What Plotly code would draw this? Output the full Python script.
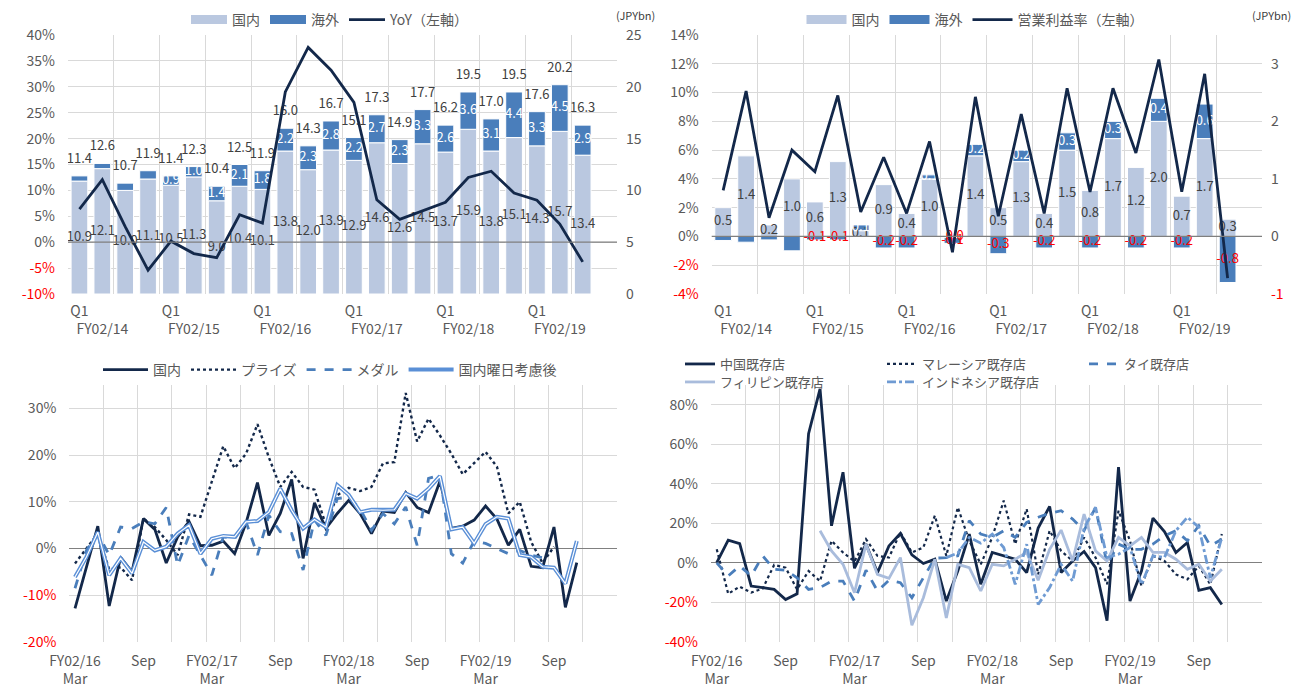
import plotly.graph_objects as go

# ---------------- data ----------------
fy_labels = ["FY02/14", "FY02/15", "FY02/16", "FY02/17", "FY02/18", "FY02/19"]

# Top-left: sales (JPYbn) and YoY (%)
sales_domestic = [10.9, 12.1, 10.0, 11.1, 10.5, 11.3, 9.0, 10.4, 10.1, 13.8, 12.0, 13.9,
                  12.9, 14.6, 12.6, 14.5, 13.7, 15.9, 13.8, 15.1, 14.3, 15.7, 13.4]
sales_overseas = [0.5, 0.5, 0.7, 0.8, 0.9, 1.0, 1.4, 2.1, 1.8, 2.2, 2.3, 2.8,
                  2.2, 2.7, 2.3, 3.3, 2.6, 3.6, 3.1, 4.4, 3.3, 4.5, 2.9]
sales_total = [11.4, 12.6, 10.7, 11.9, 11.4, 12.3, 10.4, 12.5, 11.9, 16.0, 14.3, 16.7,
               15.1, 17.3, 14.9, 17.7, 16.2, 19.5, 17.0, 19.5, 17.6, 20.2, 16.3]
sales_yoy = [6.4, 12.1, 3.0, -5.4, 0.2, -2.2, -3.0, 5.3, 3.7, 29.0, 37.6, 33.2,
             27.0, 8.2, 4.4, 6.0, 7.7, 12.5, 13.7, 9.5, 8.1, 3.5, -3.8]

# Top-right: operating profit (JPYbn) and margin (%)
op_domestic = [0.5, 1.4, 0.2, 1.0, 0.6, 1.3, 0.1, 0.9, 0.4, 1.0, -0.02, 1.4,
               0.5, 1.3, 0.4, 1.5, 0.8, 1.7, 1.2, 2.0, 0.7, 1.7, 0.3]
op_overseas = [-0.07, -0.1, -0.06, -0.25, -0.06, -0.06, 0.1, -0.2, -0.2, 0.07, -0.1, 0.2,
               -0.3, 0.2, -0.2, 0.3, -0.2, 0.3, -0.2, 0.4, -0.2, 0.6, -0.8]
op_margin = [3.2, 10.1, 1.3, 6.0, 4.5, 9.8, 1.7, 5.5, 1.6, 6.6, -1.1, 9.7,
             1.4, 8.5, 1.6, 10.3, 3.1, 10.3, 5.8, 12.3, 3.1, 11.3, -2.9]

# Bottom: monthly, Mar FY02/16 onwards
month_tick_labels = ["FY02/16<br>Mar", "Sep", "FY02/17<br>Mar", "Sep",
                     "FY02/18<br>Mar", "Sep", "FY02/19<br>Mar", "Sep"]
jp_domestic = [-12.8, -4.0, 4.8, -12.3, -1.9, -5.0, 6.4, 4.1, -3.1, 2.5, 5.8, 0.6, 0.7, 1.6,
               -1.1, 5.5, 14.1, 2.8, 7.5, 14.8, -2.1, 9.8, 4.3, 7.5, 10.3, 7.5, 3.2, 8.0,
               7.7, 12.0, 8.8, 7.7, 14.4, 4.3, 4.8, 6.1, 9.1, 6.3, 0.7, 4.1, -3.8, -4.1,
               4.6, -12.6, -3.0]
jp_prize = [-3.2, 0.0, 3.2, -4.5, -4.0, -6.8, 6.4, 4.6, 1.8, -1.4, 7.3, 6.8, 14.2, 21.9,
            17.2, 20.3, 26.6, 19.5, 13.2, 16.4, 13.2, 12.6, 5.0, 11.4, 13.0, 12.3, 13.2,
            18.2, 18.5, 33.3, 22.9, 27.8, 24.2, 20.3, 15.9, 18.2, 20.7, 17.5, 7.5, 10.0,
            1.4, -3.1, 0.4]
jp_medal = [-8.5, -0.4, 3.2, -1.4, 4.6, 4.3, 5.7, 5.3, 8.8, -3.6, 2.8, -1.4, -5.7, 2.5,
            2.1, 5.7, -1.4, 7.1, 3.6, 3.2, -4.6, 6.1, 2.8, 10.7, 11.0, 8.5, 3.9, 7.5, 5.3,
            8.9, 0.7, 15.0, 15.7, -1.1, -3.1, 1.6, 1.1, 0.0, -1.1, -0.4, -1.4, -2.0]
jp_adjusted = [-6.1, -1.8, 3.5, -5.7, -2.1, -5.3, 1.4, -0.4, 0.4, 3.2, 5.0, -1.1, 2.1, 2.7,
               2.5, 5.7, 5.9, 7.8, 12.8, 8.2, 4.3, 6.2, 4.6, 13.6, 11.5, 7.8, 8.3, 8.2,
               8.3, 11.8, 10.7, 12.8, 15.5, 4.1, 4.6, 1.1, 5.2, 6.8, 6.4, -1.4, -1.8, -3.9,
               -4.1, -7.5, 1.6]

ov_china = [0.2, 11.5, 9.8, -11.7, -12.5, -13.4, -18.5, -15.6, 65.4, 88.0, 18.8, 45.9, -2.7,
            9.5, -4.9, 8.6, 14.9, 4.1, -0.3, 1.9, -19.3, -4.1, 14.6, -10.8, 5.3, 3.6, 1.9,
            -4.9, 17.6, 28.6, -4.9, 1.0, 5.8, -2.4, -29.2, 48.5, -19.3, -4.1, 22.7, 15.9,
            5.3, 10.3, -13.9, -12.5, -21.0]
ov_malaysia = [6.9, -15.6, -12.0, -15.0, -13.0, -1.0, -2.4, -13.4, -4.1, -9.2, 11.2, 5.3,
               0.7, 12.0, 3.6, 2.7, 15.4, 5.3, 7.8, 23.9, 3.6, 28.1, 11.2, -0.7, 12.9, 31.5,
               9.5, 27.3, -5.8, 16.3, 6.1, 1.0, 12.9, 2.7, -10.8, 26.4, 11.2, -11.7, 3.6,
               1.0, -5.8, -8.3, -1.5, -10.8, 14.6]
ov_thai = [0.0, -6.6, -1.5, -6.6, 3.6, -3.2, -3.7, -7.5, -13.4, -12.5, -9.2, -9.2, -19.3,
           -3.7, -14.2, -8.8, -10.0, -17.6, -7.5, 2.4, 2.7, 3.6, 21.4, 14.6, 12.9, 16.3,
           12.9, 20.5, 23.1, 25.1, 26.4, 22.2, 16.3, 28.1, -0.7, 9.5, 6.9, 6.9, 9.5, 13.7,
           16.3, 11.2, 18.8, 8.6, 12.0]
ov_philippines = [None] * 9 + [16.3, 6.1, -0.7, -15.1, 9.5, -5.8, -7.8, 2.7, -31.5, -17.6,
                               1.9, -27.8, -0.7, -2.4, -14.2, -0.7, -1.5, 1.9, 5.3, -8.8,
                               6.9, 16.6, 1.0, 24.7, 6.1, 1.0, 12.9, 8.6, 12.9, 5.3, 5.3,
                               1.9, -3.2, -0.7, -9.2, -3.2]
ov_indonesia = [None] * 20 + [2.7, 5.0, 12.9, 10.0, 14.6, 7.8, -10.8, 9.5, -21.0, -12.5,
                              -0.7, -9.2, 17.6, 28.1, 2.7, 4.4, 7.8, -11.0, 3.6, 2.7, 16.3,
                              23.1, 18.0, -7.5, 12.9]

# ---------------- styles ----------------
LIGHT = "#BAC8E0"
BLUE = "#4A7EBB"
NAVY = "#13284A"
ADJ = "#5A8FD6"
PHIL = "#A9BCDC"
INDO = "#6F9BD3"
GRID = "#D9D9D9"
TXT = "#595959"
LBL = "#404040"
RED = "#FF0000"
FONT = "Noto Sans CJK JP"

W = 1300.0
H = 687.0
OFF = 8.0  # page body margin offset of the rendered figure


def px(x):
    return (x - OFF) / W


def py(y):
    return 1 - (y - OFF) / H


def red_neg(vals, fmt):
    out = []
    for v in vals:
        s = fmt(v)
        out.append(f'<span style="color:{RED}">{s}</span>' if v < 0 else s)
    return out


def swatch(name, color, xaxis, yaxis, legend):
    # legend-only entry drawn as a wide colour block (like the original's legend keys)
    return go.Scatter(x=[None], y=[None], mode="lines", name=name, line=dict(color=color, width=9),
                      xaxis=xaxis, yaxis=yaxis, legend=legend, hoverinfo="skip")


fig = go.Figure()

# ---------- top-left ----------
xq = list(range(len(sales_domestic)))
fig.add_trace(go.Bar(x=xq, y=sales_domestic, name="国内", marker=dict(color=LIGHT, line=dict(color="white", width=1)),
                     xaxis="x", yaxis="y", showlegend=False))
fig.add_trace(go.Bar(x=xq, y=sales_overseas, name="海外", marker=dict(color=BLUE, line=dict(color="white", width=1)),
                     xaxis="x", yaxis="y", showlegend=False))
fig.add_trace(go.Scatter(x=xq, y=[d / 2 for d in sales_domestic], mode="text",
                         text=[f"{d:.1f}" for d in sales_domestic], textfont=dict(color=LBL, size=13, family=FONT),
                         showlegend=False, xaxis="x", yaxis="y", hoverinfo="skip"))
fig.add_trace(go.Scatter(x=xq[4:], y=[d + o / 2 for d, o in zip(sales_domestic[4:], sales_overseas[4:])], mode="text",
                         text=[f"{o:.1f}" for o in sales_overseas[4:]], textfont=dict(color="white", size=13, family=FONT),
                         showlegend=False, xaxis="x", yaxis="y", hoverinfo="skip"))
fig.add_trace(go.Scatter(x=xq, y=[d + o for d, o in zip(sales_domestic, sales_overseas)], mode="markers+text",
                         marker=dict(size=14, color="rgba(0,0,0,0)"),
                         text=[f"{t:.1f}" for t in sales_total], textposition="top center",
                         textfont=dict(color=LBL, size=13, family=FONT),
                         showlegend=False, xaxis="x", yaxis="y", hoverinfo="skip"))
fig.add_trace(swatch("国内", LIGHT, "x", "y", "legend"))
fig.add_trace(swatch("海外", BLUE, "x", "y", "legend"))
fig.add_trace(go.Scatter(x=xq, y=sales_yoy, mode="lines", name="YoY（左軸）", line=dict(color=NAVY, width=2.8),
                         xaxis="x", yaxis="y5", legend="legend"))

# ---------- top-right ----------
fig.add_trace(go.Bar(x=xq, y=op_domestic, name="国内", marker=dict(color=LIGHT, line=dict(color="white", width=1)),
                     xaxis="x2", yaxis="y2", showlegend=False))
fig.add_trace(go.Bar(x=xq, y=op_overseas, name="海外", marker=dict(color=BLUE, line=dict(color="white", width=1)),
                     xaxis="x2", yaxis="y2", showlegend=False))
fig.add_trace(go.Scatter(x=xq, y=[d / 2 for d in op_domestic], mode="text",
                         text=[f"{d:.1f}" for d in op_domestic],
                         textfont=dict(color=[RED if d < 0 else LBL for d in op_domestic], size=13, family=FONT),
                         showlegend=False, xaxis="x2", yaxis="y2", hoverinfo="skip"))
ov_y = []
for d, o in zip(op_domestic[4:], op_overseas[4:]):
    base = max(d, 0) if o > 0 else min(d, 0)
    ov_y.append(base + o / 2)
fig.add_trace(go.Scatter(x=xq[4:], y=ov_y, mode="text",
                         text=[f"{o:.1f}" for o in op_overseas[4:]],
                         textfont=dict(color=[RED if o < 0 else "white" for o in op_overseas[4:]], size=13, family=FONT),
                         showlegend=False, xaxis="x2", yaxis="y2", hoverinfo="skip"))
fig.add_trace(swatch("国内", LIGHT, "x2", "y2", "legend2"))
fig.add_trace(swatch("海外", BLUE, "x2", "y2", "legend2"))
fig.add_trace(go.Scatter(x=xq, y=op_margin, mode="lines", name="営業利益率（左軸）", line=dict(color=NAVY, width=2.8),
                         xaxis="x2", yaxis="y6", legend="legend2"))

# ---------- bottom-left ----------
def xs(series):
    return list(range(len(series)))

fig.add_trace(go.Scatter(x=xs(jp_domestic), y=jp_domestic, mode="lines", name="国内",
                         line=dict(color=NAVY, width=2.8), xaxis="x3", yaxis="y3", legend="legend3"))
fig.add_trace(go.Scatter(x=xs(jp_prize), y=jp_prize, mode="lines", name="プライズ",
                         line=dict(color=NAVY, width=2.4, dash="dot"), xaxis="x3", yaxis="y3", legend="legend3"))
fig.add_trace(go.Scatter(x=xs(jp_medal), y=jp_medal, mode="lines", name="メダル",
                         line=dict(color=BLUE, width=2.8, dash="dash"), xaxis="x3", yaxis="y3", legend="legend3"))
fig.add_trace(go.Scatter(x=xs(jp_adjusted), y=jp_adjusted, mode="lines", name="国内曜日考慮後",
                         line=dict(color=ADJ, width=4), xaxis="x3", yaxis="y3", legend="legend3"))
fig.add_trace(go.Scatter(x=xs(jp_adjusted), y=jp_adjusted, mode="lines", showlegend=False, hoverinfo="skip",
                         line=dict(color="white", width=1.2), xaxis="x3", yaxis="y3"))

# ---------- bottom-right ----------
fig.add_trace(go.Scatter(x=xs(ov_china), y=ov_china, mode="lines", name="中国既存店",
                         line=dict(color=NAVY, width=2.8), xaxis="x4", yaxis="y4", legend="legend4"))
fig.add_trace(go.Scatter(x=xs(ov_malaysia), y=ov_malaysia, mode="lines", name="マレーシア既存店",
                         line=dict(color=NAVY, width=2.2, dash="dot"), xaxis="x4", yaxis="y4", legend="legend4"))
fig.add_trace(go.Scatter(x=xs(ov_thai), y=ov_thai, mode="lines", name="タイ既存店",
                         line=dict(color=BLUE, width=2.8, dash="dash"), xaxis="x4", yaxis="y4", legend="legend4"))
fig.add_trace(go.Scatter(x=xs(ov_philippines), y=ov_philippines, mode="lines", name="フィリピン既存店",
                         line=dict(color=PHIL, width=2.8), xaxis="x4", yaxis="y4", legend="legend5"))
fig.add_trace(go.Scatter(x=xs(ov_indonesia), y=ov_indonesia, mode="lines", name="インドネシア既存店",
                         line=dict(color=INDO, width=2.8, dash="dashdot"), xaxis="x4", yaxis="y4", legend="legend5"))

# ---------------- axes ----------------
tick_font = dict(family=FONT, size=14, color=TXT)
top_dom = [py(294), py(35)]
bot_dom = [py(642), py(385)]

q_tickvals, q_ticktext = [], []
for k, fy in enumerate(fy_labels):
    q_tickvals += [4 * k, 4 * k + 1]
    q_ticktext += ["Q1", "<br>" + fy]


def quarter_xaxis(domain, anchor):
    return dict(domain=domain, anchor=anchor, range=[-0.5, 23.5], tickvals=q_tickvals, ticktext=q_ticktext,
                showgrid=False, zeroline=False, ticks="", tickfont=tick_font, ticklabelstandoff=7,
                tickangle=0, automargin=False,
                minor=dict(tick0=-0.5, dtick=2, showgrid=True, gridcolor=GRID, gridwidth=1, ticks=""))


def month_xaxis(domain, anchor):
    return dict(domain=domain, anchor=anchor, range=[-0.5, 47.5], tickvals=[0, 6, 12, 18, 24, 30, 36, 42],
                ticktext=month_tick_labels, showgrid=False, zeroline=False, ticks="", tickfont=tick_font,
                ticklabelstandoff=9, tickangle=0, automargin=False,
                minor=dict(tick0=-0.5, dtick=3, showgrid=True, gridcolor=GRID, gridwidth=1, ticks=""))


def yax(**kw):
    base = dict(ticks="", tickfont=tick_font, automargin=False, zeroline=False)
    base.update(kw)
    return base


pct_tl = list(range(-10, 45, 5))
pct_tr = list(range(-4, 16, 2))
pct_bl = list(range(-20, 40, 10))
pct_br = list(range(-40, 100, 20))
rt_tr = [-1, 0, 1, 2, 3]

legend_font = dict(family=FONT, size=14, color=TXT)
leg = dict(orientation="h", font=legend_font, bgcolor="rgba(0,0,0,0)", traceorder="normal")
leg_br = dict(orientation="h", font=dict(family=FONT, size=13, color=TXT), bgcolor="rgba(0,0,0,0)",
              traceorder="normal", entrywidth=157)

fig.update_layout(
    width=1300, height=687, margin=dict(l=0, r=0, t=0, b=0, autoexpand=False),
    paper_bgcolor="white", plot_bgcolor="white",
    font=dict(family=FONT, color=TXT),
    barmode="relative", bargap=0.27,
    xaxis=quarter_xaxis([px(68), px(617)], "y"),
    yaxis=yax(domain=top_dom, anchor="x", side="right", range=[0, 25], tickvals=[0, 5, 10, 15, 20, 25],
              showgrid=False, ticklabelstandoff=8),
    yaxis5=yax(overlaying="y", anchor="x", side="left", range=[-10, 40], tickvals=pct_tl,
               ticktext=red_neg(pct_tl, lambda v: f"{v}%"), showgrid=True, gridcolor=GRID,
               ticklabelstandoff=12),
    xaxis2=quarter_xaxis([px(711.7), px(1262)], "y2"),
    yaxis2=yax(domain=top_dom, anchor="x2", side="right", range=[-1, 3.5], tickvals=rt_tr,
               ticktext=red_neg(rt_tr, lambda v: f"{v}"), showgrid=False, ticklabelstandoff=8),
    yaxis6=yax(overlaying="y2", anchor="x2", side="left", range=[-4, 14], tickvals=pct_tr,
               ticktext=red_neg(pct_tr, lambda v: f"{v}%"), showgrid=True, gridcolor=GRID,
               ticklabelstandoff=12),
    xaxis3=month_xaxis([px(69.3), px(616.7)], "y3"),
    yaxis3=yax(domain=bot_dom, anchor="x3", range=[-20, 35], tickvals=pct_bl,
               ticktext=red_neg(pct_bl, lambda v: f"{v}%"), showgrid=True, gridcolor=GRID,
               zeroline=True, zerolinecolor="#808080", zerolinewidth=1.3, ticklabelstandoff=12),
    xaxis4=month_xaxis([px(711), px(1262)], "y4"),
    yaxis4=yax(domain=bot_dom, anchor="x4", range=[-40, 90], tickvals=pct_br,
               ticktext=red_neg(pct_br, lambda v: f"{v}%"), showgrid=True, gridcolor=GRID,
               zeroline=True, zerolinecolor="#808080", zerolinewidth=1.3, ticklabelstandoff=12),
    legend=leg | dict(x=px(330), xanchor="center", y=py(20), yanchor="middle", itemwidth=36),
    legend2=leg | dict(x=px(975), xanchor="center", y=py(20), yanchor="middle", itemwidth=40),
    legend3=leg | dict(x=px(330), xanchor="center", y=py(370), yanchor="middle", itemwidth=45),
    legend4=leg_br | dict(x=px(680), xanchor="left", y=py(364), yanchor="middle"),
    legend5=leg_br | dict(x=px(680), xanchor="left", y=py(382), yanchor="middle"),
    shapes=[
        dict(type="line", xref="x domain", x0=0, x1=1, yref="y5", y0=0, y1=0,
             line=dict(color="#7F7F7F", width=1.3), layer="above"),
        dict(type="line", xref="x2 domain", x0=0, x1=1, yref="y6", y0=0, y1=0,
             line=dict(color="#7F7F7F", width=1.3), layer="above"),
    ],
    annotations=[
        dict(text="(JPYbn)", xref="paper", yref="paper", x=px(635), y=py(15), xanchor="center",
             yanchor="middle", showarrow=False, font=dict(family=FONT, size=11, color="#404040")),
        dict(text="(JPYbn)", xref="paper", yref="paper", x=px(1271), y=py(15), xanchor="center",
             yanchor="middle", showarrow=False, font=dict(family=FONT, size=11, color="#404040")),
    ],
)

fig.write_html("out.html")
